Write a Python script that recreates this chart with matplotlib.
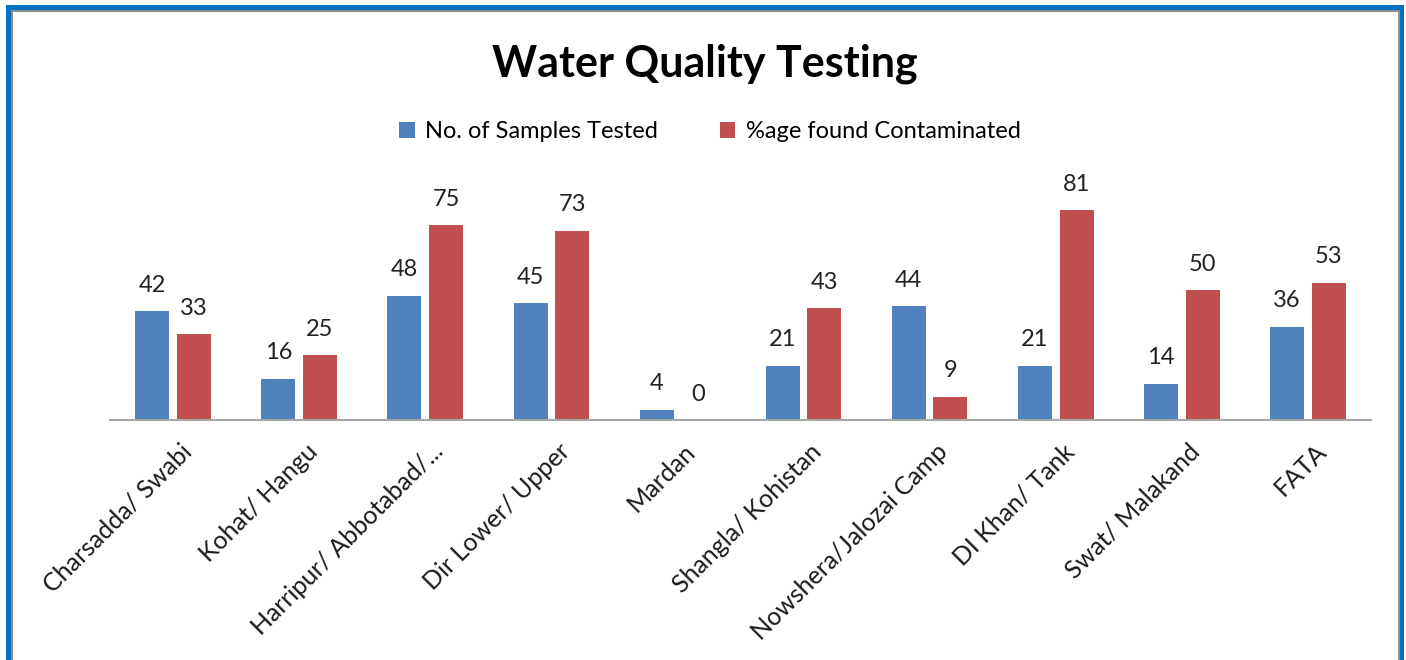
import matplotlib
matplotlib.use("Agg")
import matplotlib.pyplot as plt
from matplotlib.patches import Rectangle
import numpy as np

plt.rcParams['font.family'] = ['Lato', 'DejaVu Sans']

categories = ["Charsadda/ Swabi", "Kohat/ Hangu", "Harripur/ Abbotabad/...",
              "Dir Lower/ Upper", "Mardan", "Shangla/ Kohistan",
              "Nowshera/Jalozai Camp", "DI Khan/ Tank", "Swat/ Malakand", "FATA"]
samples_tested = [42, 16, 48, 45, 4, 21, 44, 21, 14, 36]
pct_contaminated = [33, 25, 75, 73, 0, 43, 9, 81, 50, 53]
series_names = ["No. of Samples Tested", "%age found Contaminated"]

W, H = 1406, 660
fig = plt.figure(figsize=(W / 100, H / 100), dpi=100)
fig.patch.set_facecolor("white")

def px_rect(x0, y0, x1, y1, color):
    fig.patches.append(Rectangle((x0 / W, 1 - y1 / H), (x1 - x0) / W, (y1 - y0) / H,
                                 transform=fig.transFigure, color=color, lw=0, zorder=10))

# frame
blue, gray = "#0070C0", "#8F8F8F"
px_rect(6, 5, 1404, 10, blue)
px_rect(6, 5, 11, 660, blue)
px_rect(1400, 5, 1404, 660, blue)
px_rect(11, 10, 1400, 12, gray)
px_rect(11, 10, 13, 660, gray)
px_rect(1398, 10, 1400, 660, gray)

# axes in pixel layout
left, right, base, top = 110, 1371, 420, 186.6
ax = fig.add_axes([left / W, 1 - base / H, (right - left) / W, (base - top) / H])
ax.set_xlim(-0.5, len(categories) - 0.5)
ax.set_ylim(0, 90)

x = np.arange(len(categories))
bw, off = 0.27, 0.165
c1, c2 = "#4F81BD", "#C0504D"
b1 = ax.bar(x - off, samples_tested, bw, color=c1, label=series_names[0])
b2 = ax.bar(x + off, pct_contaminated, bw, color=c2, label=series_names[1])

for bars, vals in ((b1, samples_tested), (b2, pct_contaminated)):
    for b, v in zip(bars, vals):
        ax.annotate(str(v), (b.get_x() + b.get_width() / 2, v), xytext=(0, 11),
                    textcoords="offset points", ha="center", va="bottom",
                    fontsize=17, color="#222222")

for s in ("top", "right", "left"):
    ax.spines[s].set_visible(False)
ax.spines["bottom"].set_color("#A6A6A6")
ax.spines["bottom"].set_linewidth(1.5)
ax.set_yticks([])
ax.set_xticks(x + 0.05)
ax.set_xticklabels(categories, rotation=45, ha="right", rotation_mode="anchor",
                   fontsize=18, color="#1a1a1a")
ax.tick_params(axis="x", length=0, pad=14)
ax.set_facecolor("none")

fig.text(705 / W, 1 - 64 / H, "Water Quality Testing", ha="center", va="center",
         fontsize=31, fontweight="bold", color="black")

fig.legend(handles=[b1, b2], labels=series_names, loc="center",
           bbox_to_anchor=(710 / W, 1 - 132 / H), ncol=2, frameon=False,
           fontsize=17, handlelength=0.65, handleheight=0.65, handletextpad=0.45,
           columnspacing=2.6)

fig.savefig("out.png", dpi=100, facecolor="white")
